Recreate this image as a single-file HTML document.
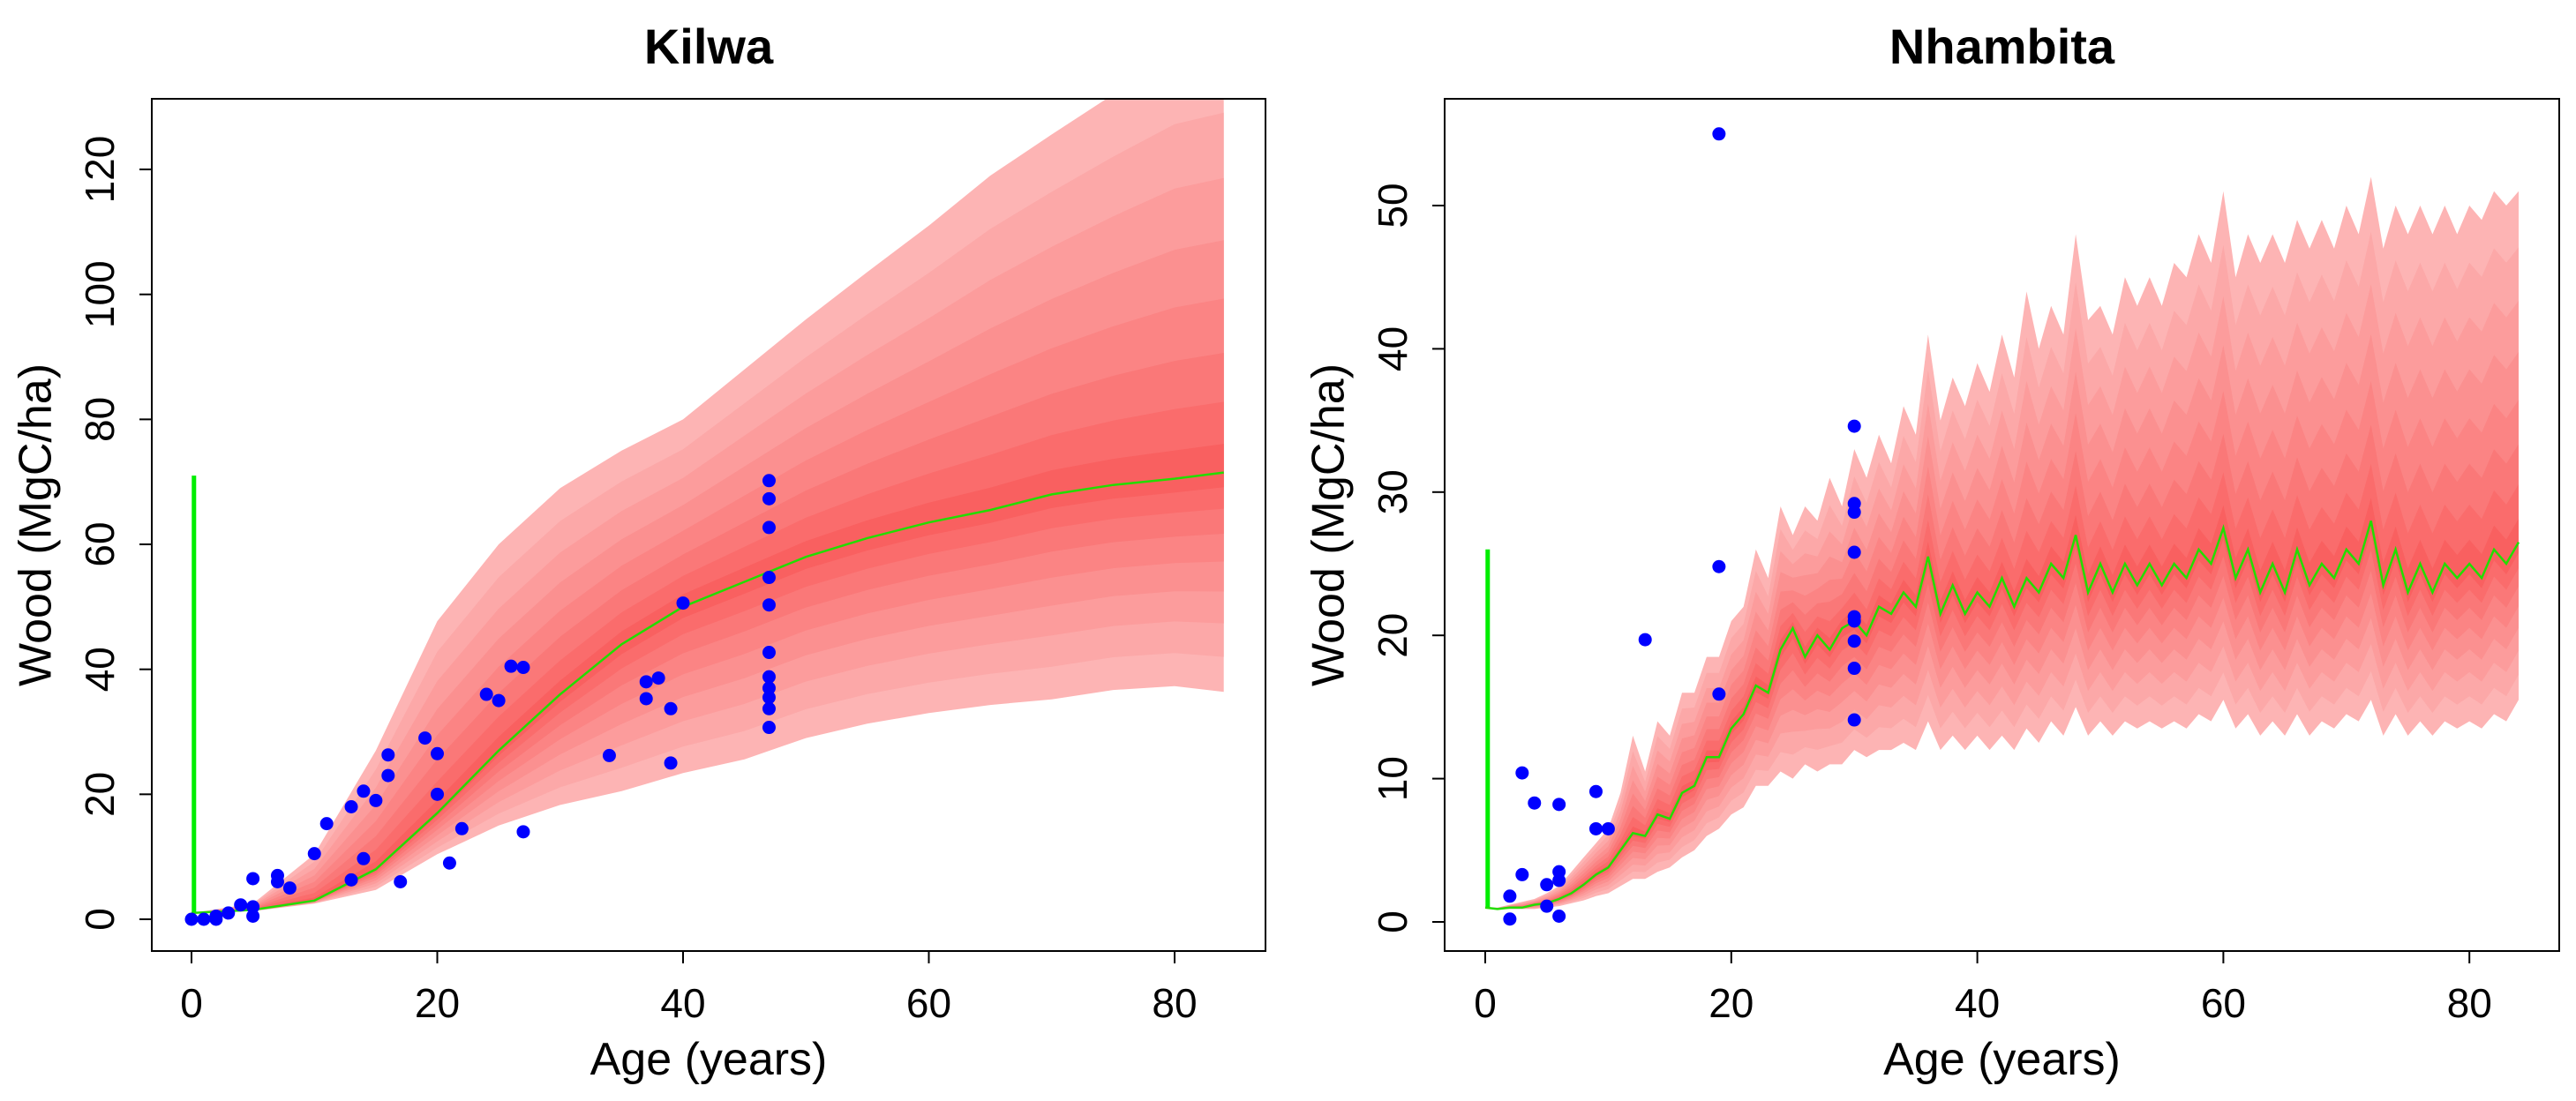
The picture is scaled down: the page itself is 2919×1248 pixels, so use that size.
<!DOCTYPE html>
<html><head><meta charset="utf-8"><style>
html,body{margin:0;padding:0;background:#fff;}
svg{display:block;font-family:"Liberation Sans",sans-serif;}
</style></head><body>
<svg id="chart" width="2919" height="1248" viewBox="0 0 2919 1248" xmlns="http://www.w3.org/2000/svg">
<defs>
<clipPath id="clipK"><rect x="172" y="112" width="1262" height="966"/></clipPath>
<clipPath id="clipN"><rect x="1637" y="112" width="1263" height="966"/></clipPath>
</defs>
<g id="panelK"></g>
<g id="panelN"></g>
</svg>
<script>
// ---- Kilwa data ----
const kAges = [0,5,10,15,20,25,30,35,40,45,50,55,60,65,70,75,80,84];
const kMed  = [1,1.5,3,8,17,27,36,44,50,54,58,61,63.5,65.5,68,69.5,70.5,71.5];
const kHi   = [1,2.5,10.4,27,47.7,60,69,75,80,88,96,103.6,111,119,125.6,132,138,140];
const kLo   = [1,1.3,2.5,4.7,10.4,15,18.3,20.5,23.4,25.6,29,31.3,33,34.3,35.2,36.7,37.3,36.4];
const kPtAge = [0,1,2,2,3,4,5,5,5,7,7,8,10,11,13,13,14,14,15,16,16,17,19,20,20,21,22,24,25,26,27,27,34,37,37,38,39,39,40,47,47,47,47,47,47,47,47,47,47,47];
const kPtVal = [0,0,0.5,0,1,2.3,2,0.5,6.5,7,6,5,10.5,15.3,6.3,18,20.5,9.7,19,26.3,23,6,29,26.5,20,9,14.5,36,35,40.5,40.3,14,26.2,38,35.3,38.6,33.7,25,50.6,70.2,67.3,62.7,54.7,50.3,42.7,38.8,37,35.5,33.7,30.7];
const kYTicks = [0,20,40,60,80,100,120];
const kXTicks = [0,20,40,60,80];
const kBarTop = 71;

// ---- Nhambita data ----
const nAges = [];
for (let i = 0; i <= 84; i++) nAges.push(i);
const nMed = [1,0.9,1,1,1.2,1.3,1.6,2,2.6,3.3,3.8,5,6.2,6,7.5,7.2,9,9.5,11.5,11.5,13.5,14.5,16.5,16,19,20.5,18.5,20,19,20.5,21,20,22,21.5,23,22,25.5,21.5,23.5,21.5,23,22,24,22,24,23,25,24,27,23,25,23,25,23.5,25,23.5,25,24,26,25,27.5,24,26,23,25,23,26,23.5,25,24,26,25,28,23.5,26,23,25,23,25,24,25,24,26,25,26.5];
const nHi = [1,1,1.2,1.4,1.6,2,2.5,3.5,4.5,5.5,6.5,9,13,10.5,14,13,16,16,18.5,18.5,21,22,26,24,29,27,29,28,31,29,33,31,34,32,36,34,41,35,38,36,39,37,41,38,44,40,43,41,48,42,43,41,45,43,45,43,46,45,48,46,51,45,48,46,48,46,49,47,49,47,50,48,52,47,50,48,50,48,50,48,50,49,51,50,51];
const nLo = [1,0.9,0.9,0.9,0.9,1,1.1,1.3,1.5,1.8,2,2.5,3,3,3.5,3.8,4.5,5,6,6.5,7.5,8,9.5,9.5,10.5,10,11,10.5,11,11,12,11.5,12,12,12.5,12,14,12,13,12,13,12,13,12,13.5,12.5,14,13,15,13,14,13,14,13.5,14,13.5,14,13.5,14.5,14,15.5,13.5,14.5,13,14,13,14.5,13,14,13.5,14.5,14,15.5,13,14.5,13,14,13,14,13.5,14,13.5,14.5,14,15.5];
const nPtAge = [2,2,3,3,4,5,5,6,6,6,6,9,9,10,13,19,19,19,30,30,30,30,30,30,30,30,30];
const nPtVal = [1.8,0.2,10.4,3.3,8.3,2.6,1.1,8.2,3.5,2.9,0.4,9.1,6.5,6.5,19.7,55,24.8,15.9,34.6,29.2,28.6,25.8,21.3,21,19.6,17.7,14.1];
const nYTicks = [0,10,20,30,40,50];
const nXTicks = [0,20,40,60,80];
const nBarTop = 26;

const NS = "http://www.w3.org/2000/svg";
function mk(tag, attrs, parent) {
  const e = document.createElementNS(NS, tag);
  for (const k in attrs) e.setAttribute(k, attrs[k]);
  parent.appendChild(e);
  return e;
}
const bandColors = ["#fdb4b4","#fca8a8","#fc9c9c","#fb9090","#fb8484","#fa7878","#fa6c6c","#f96060"];

function drawPanel(g, cfg) {
  const { box, x0px, pxPerX, y0px, pxPerY, ages, med, hi, lo, ptA, ptV, yTicks, xTicks, title, clip, barTop, barX } = cfg;
  const X = a => x0px + a * pxPerX;
  const Y = v => y0px - v * pxPerY;
  const title_ = mk("text", { x: (box.x + box.x + box.w) / 2, y: 72, "text-anchor": "middle", "font-size": 56, "font-weight": "bold", fill: "#000" }, g);
  title_.textContent = title;
  
  
  const fan = mk("g", { "clip-path": "url(#" + clip + ")" }, g);
  
  
  const n = bandColors.length;
  for (let k = 0; k < n; k++) {
    const f = Math.pow((n - k) / n, 1.3);
    let pts = [];
    for (let i = 0; i < ages.length; i++) pts.push(X(ages[i]).toFixed(1) + "," + Y(med[i] + (hi[i] - med[i]) * f).toFixed(1));
    for (let i = ages.length - 1; i >= 0; i--) pts.push(X(ages[i]).toFixed(1) + "," + Y(med[i] - (med[i] - lo[i]) * f).toFixed(1));
    const p = mk("polygon", { points: pts.join(" "), fill: bandColors[k] }, fan);
    
    
  }
  const vbar = mk("line", { x1: X(barX), x2: X(barX), y1: Y(1), y2: Y(barTop), stroke: "#00ee00", "stroke-width": 5 }, g);
  
  
  const mp = ages.map((a, i) => X(a).toFixed(1) + "," + Y(med[i]).toFixed(1)).join(" ");
  const ml = mk("polyline", { points: mp, fill: "none", stroke: "#22dd00", "stroke-width": 2.5 }, g);
  
  
  for (let i = 0; i < ptA.length; i++) {
    const c = mk("circle", { cx: X(ptA[i]), cy: Y(ptV[i]), r: 7.5, fill: "#0000ff" }, g);
    
    
  }
  const frame = mk("rect", { x: box.x, y: box.y, width: box.w, height: box.h, fill: "none", stroke: "#000", "stroke-width": 2 }, g);
  
  
  for (const t of yTicks) {
    const yy = Y(t);
    const tk = mk("line", { x1: box.x - 14, x2: box.x, y1: yy, y2: yy, stroke: "#000", "stroke-width": 2 }, g);
    
    
    const lx = box.x - 55;
    const lb = mk("text", { x: lx, y: yy, "text-anchor": "middle", "font-size": 46, transform: "rotate(-90 " + lx + " " + yy + ")", "dominant-baseline": "middle" }, g);
    lb.textContent = t;
    
    
  }
  for (const t of xTicks) {
    const xx = X(t);
    const tk = mk("line", { x1: xx, x2: xx, y1: box.y + box.h, y2: box.y + box.h + 14, stroke: "#000", "stroke-width": 2 }, g);
    
    
    const lb = mk("text", { x: xx, y: 1153, "text-anchor": "middle", "font-size": 46 }, g);
    lb.textContent = t;
    
    
  }
  const xt = mk("text", { x: box.x + box.w / 2, y: 1218, "text-anchor": "middle", "font-size": 52 }, g);
  xt.textContent = "Age (years)";
  
  
  const yc = box.y + box.h / 2, xc = box.x - 128;
  const yt = mk("text", { x: xc, y: yc, "text-anchor": "middle", "font-size": 52, "dominant-baseline": "middle", transform: "rotate(-90 " + xc + " " + yc + ")" }, g);
  yt.textContent = "Wood (MgC/ha)";
  
  
}

drawPanel(document.getElementById("panelK"), {
  box: { x: 172, y: 112, w: 1262, h: 966 }, x0px: 217, pxPerX: 13.925, y0px: 1042, pxPerY: 7.083,
  ages: kAges, med: kMed, hi: kHi, lo: kLo, ptA: kPtAge, ptV: kPtVal, yTicks: kYTicks, xTicks: kXTicks,
  title: "Kilwa", clip: "clipK", barTop: kBarTop, barX: 0.2
});
drawPanel(document.getElementById("panelN"), {
  box: { x: 1637, y: 112, w: 1263, h: 966 }, x0px: 1683, pxPerX: 13.94, y0px: 1045, pxPerY: 16.24,
  ages: nAges, med: nMed, hi: nHi, lo: nLo, ptA: nPtAge, ptV: nPtVal, yTicks: nYTicks, xTicks: nXTicks,
  title: "Nhambita", clip: "clipN", barTop: nBarTop, barX: 0.2
});
</script>
</body></html>
